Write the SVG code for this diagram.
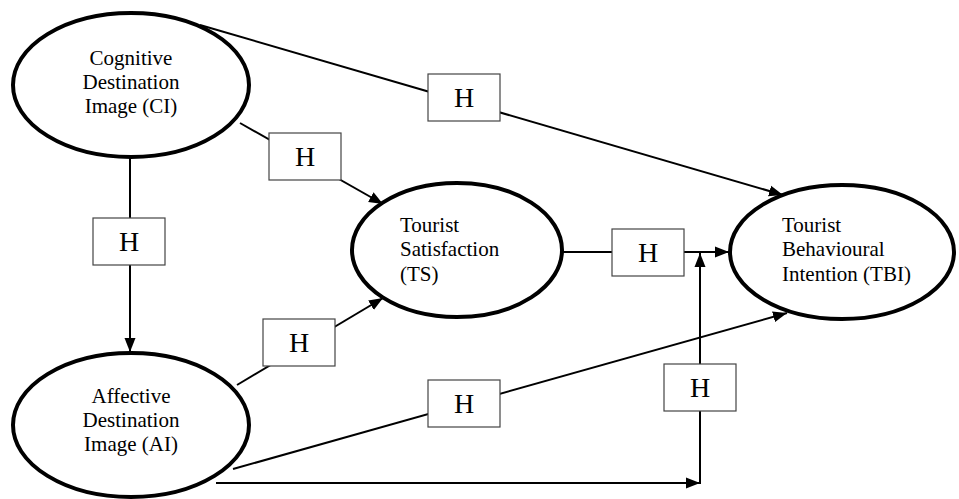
<svg xmlns="http://www.w3.org/2000/svg" width="959" height="499" viewBox="0 0 959 499">
<style>
.node ellipse{fill:#fff;stroke:#000;stroke-width:4}
.node text{font-family:"Liberation Serif","Times New Roman",serif;font-size:21px;fill:#000}
.edge{fill:none;stroke:#000;stroke-width:2}
.lbl rect{fill:#fff;stroke:#444;stroke-width:1.2}
.lbl text{font-family:"Liberation Serif","Times New Roman",serif;font-size:28px;fill:#000;text-anchor:middle}
</style>
<defs>
<marker id="arr" markerUnits="userSpaceOnUse" markerWidth="15" markerHeight="12" refX="14" refY="6" orient="auto">
<path d="M0,0.5 L14,6 L0,11.5 Z" fill="#000"/>
</marker>
</defs>
<rect width="959" height="499" fill="#fff"/>
<g id="connectors">
<line class="edge" x1="200" y1="25" x2="783" y2="195" marker-end="url(#arr)"/>
<line class="edge" x1="240" y1="123" x2="383" y2="204" marker-end="url(#arr)"/>
<line class="edge" x1="130" y1="157" x2="130" y2="352" marker-end="url(#arr)"/>
<line class="edge" x1="237" y1="385" x2="383" y2="298" marker-end="url(#arr)"/>
<line class="edge" x1="233" y1="469" x2="787" y2="313" marker-end="url(#arr)"/>
<line class="edge" x1="562" y1="252" x2="729" y2="252" marker-end="url(#arr)"/>
<line class="edge" x1="216" y1="483" x2="700" y2="483" marker-end="url(#arr)"/>
<line class="edge" x1="700" y1="484" x2="700" y2="253" marker-end="url(#arr)"/>
<g class="lbl">
<rect x="428" y="74" width="72" height="47"/><text x="464" y="107">H</text>
<rect x="269" y="133" width="72" height="47"/><text x="305" y="166">H</text>
<rect x="93" y="218" width="72" height="47"/><text x="129" y="251">H</text>
<rect x="263" y="319" width="72" height="47"/><text x="299" y="352">H</text>
<rect x="428" y="380" width="72" height="47"/><text x="464" y="413">H</text>
<rect x="612" y="229" width="72" height="47"/><text x="648" y="262">H</text>
<rect x="664" y="364" width="72" height="47"/><text x="700" y="397">H</text>
</g>
</g>
<g id="CI" class="node">
<ellipse cx="131" cy="85" rx="118" ry="72"/>
<text x="131" y="65" text-anchor="middle">Cognitive</text>
<text x="131" y="89" text-anchor="middle">Destination</text>
<text x="131" y="113" text-anchor="middle">Image (CI)</text>
</g>
<g id="AI" class="node">
<ellipse cx="131" cy="425" rx="118" ry="72"/>
<text x="131" y="403" text-anchor="middle">Affective</text>
<text x="131" y="427" text-anchor="middle">Destination</text>
<text x="131" y="451" text-anchor="middle">Image (AI)</text>
</g>
<g id="TS" class="node">
<ellipse cx="457" cy="250" rx="105" ry="67"/>
<text x="400" y="232">Tourist</text>
<text x="400" y="256">Satisfaction</text>
<text x="400" y="281">(TS)</text>
</g>
<g id="TBI" class="node">
<ellipse cx="842" cy="252" rx="112" ry="67"/>
<text x="782" y="232">Tourist</text>
<text x="782" y="256">Behavioural</text>
<text x="782" y="281">Intention (TBI)</text>
</g>
</svg>
